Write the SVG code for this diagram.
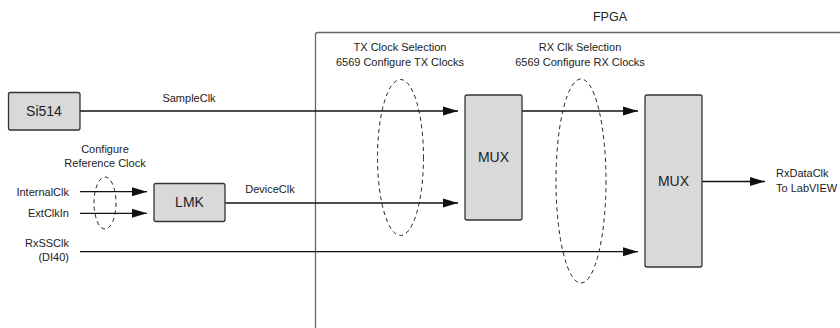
<svg xmlns="http://www.w3.org/2000/svg" width="840" height="328" viewBox="0 0 840 328">
<defs>
<marker id="arr" markerUnits="userSpaceOnUse" markerWidth="16" markerHeight="10" refX="15" refY="5" orient="auto">
<path d="M0,0.5 L15,5 L0,9.5 Z" fill="#111"/>
</marker>
<style>
text{font-family:"Liberation Sans",Arial,sans-serif;fill:#222;font-size:11px}
.big{font-size:14px}
.box{fill:#d9d9d9;stroke:#333;stroke-width:1.3}
.wire{stroke:#111;stroke-width:1.3;fill:none}
.sel{fill:none;stroke:#222;stroke-width:1;stroke-dasharray:4 3.5}
</style>
</defs>
<rect width="840" height="328" fill="#fff"/>
<g id="fpga">
<path d="M315.5,330 L315.5,35 Q315.5,32.5 318,32.5 L842,32.5" fill="none" stroke="#666" stroke-width="1.3"/>
<text x="610" y="21" text-anchor="middle" class="big" style="font-size:12.5px">FPGA</text>
</g>
<g id="connectors">
<line class="wire" x1="80" y1="111" x2="458" y2="111" marker-end="url(#arr)"/>
<line class="wire" x1="80" y1="191.7" x2="147" y2="191.7" marker-end="url(#arr)"/>
<line class="wire" x1="80" y1="213.3" x2="147" y2="213.3" marker-end="url(#arr)"/>
<line class="wire" x1="225" y1="203" x2="458" y2="203" marker-end="url(#arr)"/>
<line class="wire" x1="80" y1="251.7" x2="638" y2="251.7" marker-end="url(#arr)"/>
<line class="wire" x1="522" y1="111" x2="638" y2="111" marker-end="url(#arr)"/>
<line class="wire" x1="702" y1="181.5" x2="765" y2="181.5" marker-end="url(#arr)"/>
<text x="189" y="102" text-anchor="middle">SampleClk</text>
<text x="270" y="193" text-anchor="middle">DeviceClk</text>
<text x="69" y="196" text-anchor="end">InternalClk</text>
<text x="69" y="217" text-anchor="end">ExtClkIn</text>
<text x="69" y="247" text-anchor="end">RxSSClk</text>
<text x="69" y="261" text-anchor="end">(DI40)</text>
<text x="776" y="177">RxDataClk</text>
<text x="776" y="192">To LabVIEW</text>
</g>
<g id="refsel">
<ellipse class="sel" cx="105" cy="203" rx="11" ry="26"/>
<text x="105" y="153" text-anchor="middle">Configure</text>
<text x="105" y="167" text-anchor="middle">Reference Clock</text>
</g>
<g id="txsel">
<ellipse class="sel" cx="400.5" cy="157.5" rx="23" ry="78"/>
<text x="400" y="51" text-anchor="middle">TX Clock Selection</text>
<text x="400" y="66" text-anchor="middle">6569 Configure TX Clocks</text>
</g>
<g id="rxsel">
<ellipse class="sel" cx="581" cy="181" rx="25" ry="102"/>
<text x="580" y="51" text-anchor="middle">RX Clk Selection</text>
<text x="580" y="66" text-anchor="middle">6569 Configure RX Clocks</text>
</g>
<g id="si514">
<rect class="box" x="8.5" y="92.5" width="71.5" height="37.5" rx="2"/>
<text x="44" y="116" text-anchor="middle" class="big">Si514</text>
</g>
<g id="lmk">
<rect class="box" x="154" y="183.5" width="71" height="38" rx="2"/>
<text x="189.5" y="207" text-anchor="middle" class="big">LMK</text>
</g>
<g id="mux1">
<rect class="box" x="465" y="95" width="57" height="125" rx="2"/>
<text x="493.5" y="162" text-anchor="middle" class="big">MUX</text>
</g>
<g id="mux2">
<rect class="box" x="645" y="95" width="57" height="172" rx="2"/>
<text x="673.5" y="186" text-anchor="middle" class="big">MUX</text>
</g>
</svg>
